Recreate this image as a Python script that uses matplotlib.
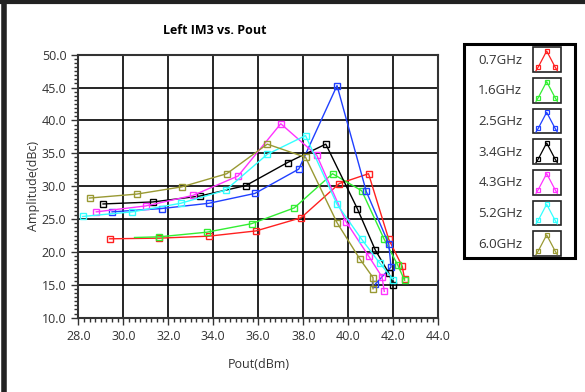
import numpy as np
import matplotlib.pyplot as plt
from matplotlib.legend_handler import HandlerBase
from matplotlib.patches import Rectangle
from matplotlib.lines import Line2D
from matplotlib.ticker import MultipleLocator

plt.rcParams['font.family'] = ['Open Sans', 'DejaVu Sans']

# data
labels = ['0.7GHz', '1.6GHz', '2.5GHz', '3.4GHz', '4.3GHz', '5.2GHz', '6.0GHz']
colors = ['#ff2020', '#33ee33', '#2040ff', '#000000', '#ff33ff', '#33ffff', '#999933']

pout_07 = [29.4, 31.6, 33.8, 35.9, 37.9, 39.6, 40.9, 41.8, 42.4, 42.5]
im3_07 = [22.0, 22.1, 22.4, 23.2, 25.2, 30.4, 31.9, 21.9, 17.8, 15.9]
pout_16 = [30.5, 31.6, 33.7, 35.7, 37.6, 39.3, 40.6, 41.6, 42.2, 42.5]
im3_16 = [22.2, 22.3, 23.0, 24.3, 26.7, 31.9, 29.3, 21.9, 18.0, 15.7]
pout_25 = [29.5, 31.7, 33.8, 35.85, 37.8, 39.5, 40.8, 41.8, 41.9, 41.2]
im3_25 = [26.1, 26.6, 27.4, 28.9, 32.6, 45.3, 29.2, 21.2, 17.7, 15.1]
pout_34 = [29.1, 31.3, 33.4, 35.45, 37.3, 39.0, 40.4, 41.2, 41.8, 42.0]
im3_34 = [27.3, 27.6, 28.5, 30.1, 33.6, 36.4, 26.6, 20.3, 16.8, 14.9]
pout_43 = [28.8, 31.0, 33.1, 35.1, 37.0, 38.6, 39.9, 40.9, 41.5, 41.6]
im3_43 = [26.1, 27.0, 28.6, 31.55, 39.5, 34.7, 24.6, 19.4, 16.2, 14.0]
pout_52 = [28.2, 30.4, 32.55, 34.55, 36.4, 38.1, 39.5, 40.6, 41.4, 42.0]
im3_52 = [25.4, 26.1, 27.4, 29.4, 34.85, 37.7, 27.25, 21.9, 18.3, 15.8]
pout_60 = [28.5, 30.6, 32.6, 34.6, 36.4, 38.1, 39.5, 40.5, 41.1, 41.1]
im3_60 = [28.2, 28.8, 29.9, 31.9, 36.4, 34.4, 24.45, 19.0, 16.1, 14.4]

series = [(pout_07, im3_07), (pout_16, im3_16), (pout_25, im3_25), (pout_34, im3_34),
          (pout_43, im3_43), (pout_52, im3_52), (pout_60, im3_60)]


class IconHandler(HandlerBase):
    def create_artists(self, legend, orig_handle, xdescent, ydescent, width, height, fontsize, trans):
        c = orig_handle.get_color()
        box = Rectangle((-xdescent, -ydescent), width, height, fill=False, ec='#222222', lw=1.2, transform=trans)
        xs = -xdescent + width * np.array([0.12, 0.2, 0.5, 0.8, 0.88])
        ys = -ydescent + height * np.array([0.05, 0.2, 0.85, 0.2, 0.05])
        ln = Line2D(xs, ys, color=c, lw=0.9, transform=trans)
        mk = Line2D(xs[1:4], ys[1:4], color=c, ls='none', marker='s', ms=3.5, mfc='none', mew=0.9, transform=trans)
        return [box, ln, mk]


fig = plt.figure(figsize=(5.85, 3.92), dpi=100)
ax = fig.add_axes([0.1338, 0.1895, 0.6154, 0.671])

handles = []
for i, ((x, y), c) in enumerate(zip(series, colors)):
    every = list(range(1, len(x))) if i == 1 else None
    h, = ax.plot(x, y, color=c, lw=1, marker='s', ms=4, mfc='none', mew=1, markevery=every)
    handles.append(h)

ax.set_xlim(28, 44)
ax.set_ylim(10, 50)
ax.xaxis.set_major_locator(MultipleLocator(2))
ax.xaxis.set_minor_locator(MultipleLocator(0.25))
ax.yaxis.set_major_locator(MultipleLocator(5))
ax.yaxis.set_minor_locator(MultipleLocator(0.625))
ax.xaxis.set_major_formatter(plt.FormatStrFormatter('%.1f'))
ax.yaxis.set_major_formatter(plt.FormatStrFormatter('%.1f'))
ax.tick_params(which='major', direction='out', length=5, width=1, labelsize=9, colors='#333333', labelcolor='#333333')
ax.tick_params(which='minor', direction='out', length=3, width=1, colors='#333333')
ax.grid(True, which='major', color='black', lw=1.2)
for s in ax.spines.values():
    s.set_color('#333333')
    s.set_linewidth(1.5)

ax.set_xlabel('Pout(dBm)', fontsize=9, color='#333333', labelpad=11)
ax.set_ylabel('Amplitude(dBc)', fontsize=9, color='#333333')
ax.yaxis.set_label_coords(-0.106, 0.5)
fig.text(215 / 585, 1 - 31 / 392, 'Left IM3 vs. Pout', fontsize=9, fontweight='bold', ha='center', va='center')

leg = fig.legend(handles, labels, loc='upper left', bbox_to_anchor=(478 / 585, 1 - 47.3 / 392),
                 markerfirst=False, handler_map={Line2D: IconHandler()}, fontsize=9.5,
                 handlelength=2.12, handleheight=2.49, labelspacing=0.46, handletextpad=0.8,
                 borderpad=0, borderaxespad=0, frameon=False)
for t in leg.get_texts():
    t.set_color('#333333')

# legend box
fig.add_artist(Rectangle((464 / 585, 1 - 258 / 392), 111 / 585, 214 / 392, fill=False,
                         ec='black', lw=2.2, transform=fig.transFigure))

# outer frame of the panel (left and top edges)
fig.add_artist(Line2D([4 / 585, 4 / 585], [0, 1], color='#222222', lw=4, transform=fig.transFigure))
fig.add_artist(Line2D([0, 1], [1 - 2 / 392, 1 - 2 / 392], color='#222222', lw=3, transform=fig.transFigure))

fig.savefig('out.png', dpi=100)
